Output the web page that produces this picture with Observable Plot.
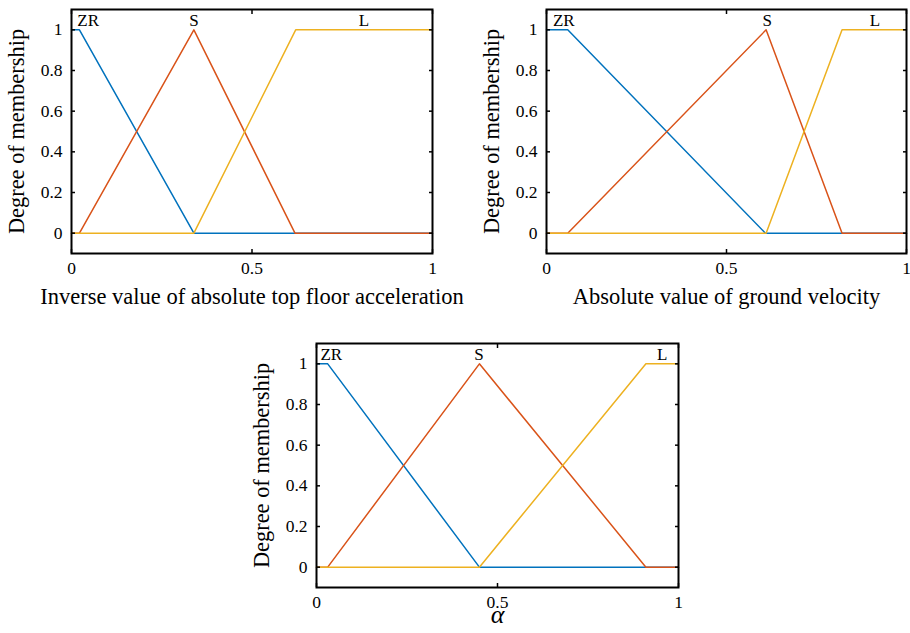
<!DOCTYPE html>
<html><head><meta charset="utf-8">
<script src="https://cdn.jsdelivr.net/npm/d3@7"></script>
<script src="https://cdn.jsdelivr.net/npm/@observablehq/plot@0.6"></script>
<style>
html,body{margin:0;padding:0;background:#fff;}
#wrap{position:relative;width:910px;height:633px;overflow:hidden;background:#fff;}
.panel{position:absolute;}
</style></head><body>
<div id="wrap">
<div class="panel" id="pA" style="left:0px;top:0px"></div>
<div class="panel" id="pB" style="left:470px;top:0px"></div>
<div class="panel" id="pC" style="left:240px;top:330px"></div>
</div>
<script>
// ---- shared axis data ----
const xTicks = [0, 0.5, 1];
const yTicks = [0, 0.2, 0.4, 0.6, 0.8, 1];
const setNames = ["ZR", "S", "L"];
const setColors = ["#0072BD", "#D95319", "#EDB120"];
const yLabelText = "Degree of membership";
const setLabelY = 1.045;

// ---- panel A: inverse value of absolute top floor acceleration ----
const accelZR = [[0, 1], [0.022, 1], [0.339, 0], [1, 0]];
const accelS  = [[0, 0], [0.022, 0], [0.339, 1], [0.619, 0], [1, 0]];
const accelL  = [[0, 0], [0.339, 0], [0.621, 1], [1, 1]];
const accelLabelX = [0.016, 0.339, 0.81];
const accelTitle = "Inverse value of absolute top floor acceleration";

// ---- panel B: absolute value of ground velocity ----
const velZR = [[0, 1], [0.059, 1], [0.608, 0], [1, 0]];
const velS  = [[0, 0], [0.059, 0], [0.61, 1], [0.821, 0], [1, 0]];
const velL  = [[0, 0], [0.61, 0], [0.821, 1], [1, 1]];
const velLabelX = [0.018, 0.613, 0.912];
const velTitle = "Absolute value of ground velocity";

// ---- panel C: alpha ----
const alphaZR = [[0, 1], [0.031, 1], [0.45, 0], [1, 0]];
const alphaS  = [[0, 0], [0.031, 0], [0.45, 1], [0.91, 0], [1, 0]];
const alphaL  = [[0, 0], [0.45, 0], [0.91, 1], [1, 1]];
const alphaLabelX = [0.011, 0.449, 0.955];
const alphaTitle = "α";

const FONT = '"Liberation Serif","Times New Roman",serif';
const fmt = d => d3.format("~g")(d);
const blank = () => "";

function panel(series, labelX, title, o) {
  const rows = series.flatMap((pts, i) => pts.map(([x, y]) => ({set: setNames[i], x, y})));
  const labels = setNames.map((name, i) => ({name, x: labelX[i], y: setLabelY}));
  return Plot.plot({
    width: o.width, height: o.height,
    marginLeft: o.ml, marginRight: o.mr, marginTop: o.mt, marginBottom: o.mb,
    style: {fontFamily: FONT, fontSize: "17px", color: "#000", background: "transparent", overflow: "visible"},
    x: {domain: [0, 1], label: null},
    y: {domain: [-0.1, 1.1], label: null},
    color: {domain: setNames, range: setColors},
    marks: [
      Plot.line(rows, {x: "x", y: "y", z: "set", stroke: "set", strokeWidth: 1.5}),
      Plot.text(labels.slice(0, 1), {x: "x", y: "y", text: "name", textAnchor: "start", lineAnchor: "middle", fontSize: 17, fill: "#000"}),
      Plot.text(labels.slice(1), {x: "x", y: "y", text: "name", textAnchor: "middle", lineAnchor: "middle", fontSize: 17, fill: "#000"}),
      Plot.frame({stroke: "#000", strokeWidth: 2}),
      Plot.axisX(xTicks, {anchor: "bottom", tickSize: 0, tickPadding: 8, tickFormat: fmt, label: null, fontSize: 17.5}),
      Plot.axisX(xTicks, {anchor: "bottom", tickSize: -4, tickFormat: blank, label: null, strokeWidth: 1.5}),
      Plot.axisX(xTicks, {anchor: "top", tickSize: -4, tickFormat: blank, label: null, strokeWidth: 1.5}),
      Plot.axisY(yTicks, {anchor: "left", tickSize: 0, tickPadding: 9, tickFormat: fmt, label: null, fontSize: 17.5}),
      Plot.axisY(yTicks, {anchor: "left", tickSize: -4, tickFormat: blank, label: null, strokeWidth: 1.5}),
      Plot.axisY(yTicks, {anchor: "right", tickSize: -4, tickFormat: blank, label: null, strokeWidth: 1.5}),
      Plot.axisY([], {anchor: "left", tickSize: 0, label: yLabelText, labelAnchor: "center", labelArrow: "none", labelOffset: 63, fontSize: 22.4}),
      Plot.axisX([], {anchor: "bottom", tickSize: 0, label: title, labelAnchor: "center", labelArrow: "none", labelOffset: o.xlo, fontSize: o.xfs, fontStyle: o.xstyle})
    ]
  });
}

document.getElementById("pA").append(panel([accelZR, accelS, accelL], accelLabelX, accelTitle,
  {width: 470, height: 320, ml: 71, mr: 38, mt: 9, mb: 67, xlo: 50, xfs: 22.5, xstyle: "normal"}));
document.getElementById("pB").append(panel([velZR, velS, velL], velLabelX, velTitle,
  {width: 440, height: 320, ml: 76, mr: 4, mt: 9, mb: 67, xlo: 50, xfs: 22.5, xstyle: "normal"}));
document.getElementById("pC").append(panel([alphaZR, alphaS, alphaL], alphaLabelX, alphaTitle,
  {width: 460, height: 303, ml: 76, mr: 22, mt: 13, mb: 46, xlo: 35, xfs: 26, xstyle: "italic"}));
</script>
</body></html>
